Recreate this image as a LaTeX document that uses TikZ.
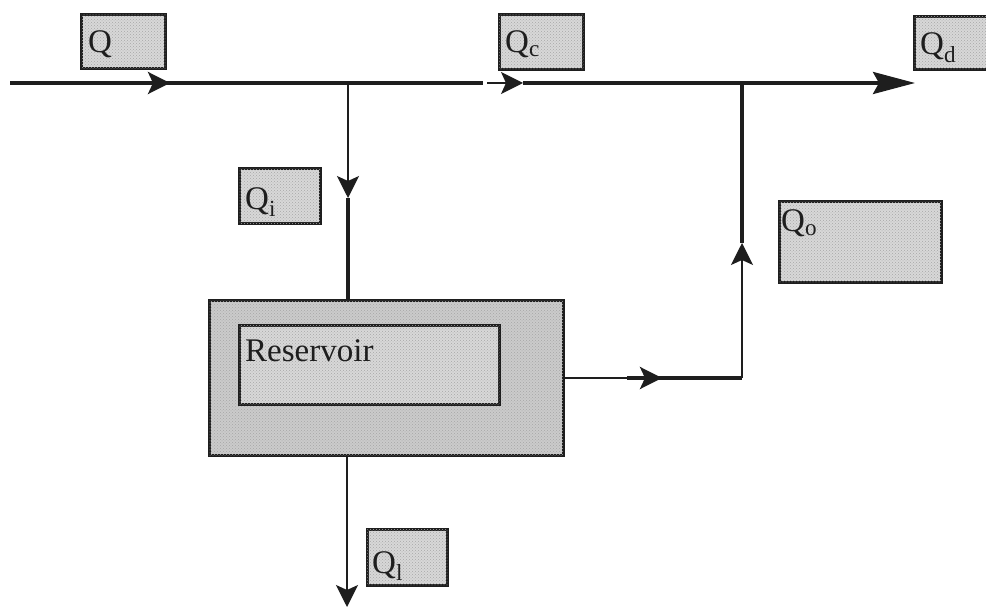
\documentclass[tikz,border=0pt]{standalone}
\usepackage{fontspec}
\setmainfont{Liberation Serif}
\usetikzlibrary{arrows.meta,decorations.markings,patterns}

\definecolor{boxfill}{HTML}{D8D8D8}
\definecolor{resfill}{HTML}{CBCBCB}
\definecolor{inkcol}{HTML}{1E1E1E}

\tikzset{
  flow/.style={draw=inkcol, line width=3.4pt},
  feed/.style={draw=inkcol, line width=1.3pt},
  qbox/.style={draw=inkcol, line width=2.6pt, fill=boxfill, anchor=north west,
    inner sep=0pt, postaction={pattern=crosshatch dots, pattern color=gray!70}},
  resbox/.style={qbox, fill=resfill},
  qtext/.style={anchor=base west, inner sep=0pt, text=inkcol,
    font=\fontsize{33}{36}\selectfont},
  midtip/.tip={Stealth[length=22pt,width=22pt,inset=5pt]},
  endtip/.tip={Stealth[length=42pt,width=22pt,inset=6pt]},
  midarrow/.style={postaction=decorate,
    decoration={markings, mark=at position #1 with {\arrow{midtip}}}},
}

\begin{document}
\begin{tikzpicture}[x=1pt, y=-1pt]
\useasboundingbox (0,0) rectangle (986,609);
\clip (0,0) rectangle (986,609);

% flow label boxes
\node[qbox, minimum width=84pt, minimum height=54pt] (qbox)  at (80,13)  {};
\node[qbox, minimum width=84pt, minimum height=55pt] (qcbox) at (498,13) {};
\node[qbox, minimum width=90pt, minimum height=53pt] (qdbox) at (913,15) {};
\node[qbox, minimum width=81pt, minimum height=55pt] (qibox) at (238,167) {};
\node[qbox, minimum width=162pt, minimum height=81pt] (qobox) at (778,200) {};
\node[qbox, minimum width=80pt, minimum height=56pt] (qlbox) at (366,528) {};

% reservoir
\node[resbox, minimum width=354pt, minimum height=155pt] (res)   at (208,299) {};
\node[qbox,   minimum width=260pt, minimum height=79pt]  (resin) at (238,324) {};

% texts
\node[qtext] (qlab)  at (88,53)   {Q};
\node[qtext] (qclab) at (505,53)  {Q\textsubscript{c}};
\node[qtext] (qdlab) at (920,55)  {Q\textsubscript{d}};
\node[qtext] (qilab) at (245,210) {Q\textsubscript{i}};
\node[qtext] (qolab) at (781,232) {Q\textsubscript{o}};
\node[qtext] (qllab) at (372,573) {Q\textsubscript{l}};
\node[qtext] (reslab) at (245,362) {Reservoir};

% junctions and free ends of the main channel
\coordinate (src)   at (10,83);
\coordinate (gapa)  at (483,83);
\coordinate (gapb)  at (487,83);
\coordinate (qcarr) at (523,83);
\coordinate (out)   at (915,83);
\coordinate (j1)    at (348,83);
\coordinate (j2)    at (742,83);
\coordinate (idown) at (348,198);
\coordinate (bend)  at (742,378);
\coordinate (rthick) at (627,378);
\coordinate (oup)   at (742,243);
\coordinate (lossend) at (347,607);

% main channel
\draw[flow, midarrow=160pt] (src) -- (gapa);
\draw[feed, -{midtip}] (gapb) -- (qcarr);
\draw[flow, -{endtip}] (qcarr) -- (out);

% inflow to the reservoir
\draw[feed, -{midtip}] (j1) -- (idown);
\draw[flow] (idown) -- (idown |- res.north);

% release back to the channel
\draw[feed] (res.east |- bend) -- (rthick);
\draw[flow, midarrow=35pt] (rthick) -- (bend);
\draw[feed, -{midtip}] (bend) -- (oup);
\draw[flow] (oup) -- (j2);

% losses
\draw[feed, -{midtip}] (res.south -| lossend) -- (lossend);
\end{tikzpicture}
\end{document}
